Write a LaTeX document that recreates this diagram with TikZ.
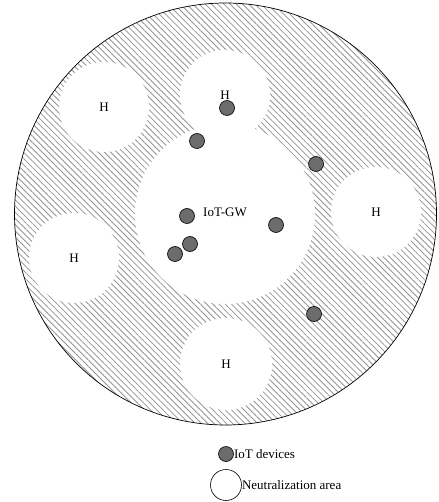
\documentclass[tikz,border=0pt]{standalone}
\usepackage{fontspec}
\setmainfont{Liberation Serif}
\usetikzlibrary{patterns.meta}

\tikzset{
  hatched/.style={pattern={Lines[angle=-45,distance=4.4pt,line width=0.8pt]},pattern color=gray!85},
  neutral/.style={circle,fill=white,inner sep=0pt},
  device/.style={circle,draw=black,fill=gray!85!black,line width=0.6pt,minimum size=15pt,inner sep=0pt},
  label/.style={font=\fontsize{13}{15}\selectfont}
}

\begin{document}
\begin{tikzpicture}[x=1pt,y=-1pt]
    \useasboundingbox (0,0) rectangle (438,502);
    % field
    \node[circle,minimum size=422pt,inner sep=0pt,fill=white] (field) at (225.5,214) {};
    \fill[hatched] (field.center) circle (211);
    % neutralization areas
    \node[neutral,minimum size=180pt] (gw) at (225,214) {};
    \node[neutral,minimum size=90pt,label] (h1) at (104,107) {H};
    \node[neutral,minimum size=90pt,label] (h2) at (225,95) {H};
    \node[neutral,minimum size=90pt,label] (h3) at (376,212) {H};
    \node[neutral,minimum size=90pt,label] (h4) at (74,258) {H};
    \node[neutral,minimum size=92pt,label] (h5) at (226,364) {H};
    \draw[line width=0.7pt] (field.center) circle (211);
    \node[label,anchor=west,inner sep=0pt] (gwtext) at (203,212) {IoT-GW};
    % IoT devices
    \foreach \n/\x/\y in {d1/227/108, d2/197/141, d3/316/164, d4/187/216,
                          d5/276/225, d6/190/244, d7/175/254, d8/314/314}
        \node[device] (\n) at (\x,\y) {};
    % legend
    \node[device] (legdev) at (226,454) {};
    \node[label,anchor=west,inner sep=0pt] (legdevtext) at (legdev.east) {IoT devices};
    \node[circle,draw=black,line width=0.6pt,minimum size=31pt,inner sep=0pt] (legarea) at (226,485) {};
    \node[label,anchor=west,inner sep=0pt] (legareatext) at (legarea.east) {Neutralization area};
\end{tikzpicture}
\end{document}
